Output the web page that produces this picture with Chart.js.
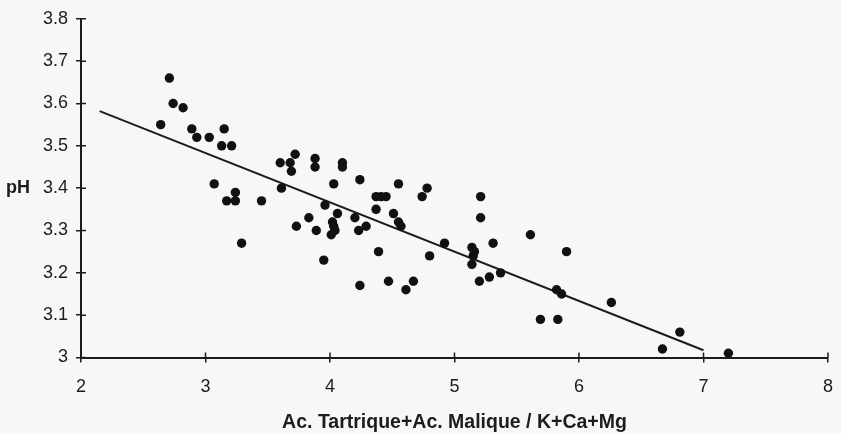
<!DOCTYPE html>
<html lang="fr">
<head>
<meta charset="utf-8">
<title>pH et rapport acides / cations</title>
<script src="https://cdn.jsdelivr.net/npm/chart.js@4.4.1/dist/chart.umd.min.js"></script>
<style>
    html, body { margin: 0; padding: 0; background: #f7f7f5; }
    #wrap { width: 841px; height: 434px; }
</style>
</head>
<body>
<div id="wrap"><canvas id="phChart" width="841" height="434"></canvas></div>
<script>
// Ac. tartrique + ac. malique / K + Ca + Mg, one value per sample
const ratioValues = [
    2.71, 2.74, 2.82, 2.64, 2.89, 2.93, 3.03, 3.15, 3.13, 3.21,
    3.07, 3.24, 3.17, 3.24, 3.45, 3.29, 3.60, 3.72, 3.68, 3.69,
    3.88, 3.88, 4.10, 4.10, 4.24, 4.03, 4.55, 3.61, 4.37, 4.41,
    4.45, 4.78, 4.74, 5.21, 3.96, 4.06, 4.37, 4.51, 3.83, 4.20,
    4.55, 4.57, 4.02, 4.03, 4.04, 4.01, 3.73, 3.89, 4.29, 4.23,
    5.21, 5.61, 4.92, 5.31, 5.14, 5.16, 5.15, 5.14, 4.39, 3.95,
    4.80, 5.37, 5.28, 5.20, 4.24, 4.47, 4.67, 4.61, 5.90, 5.82,
    5.86, 6.26, 5.69, 5.83, 6.81, 6.67, 7.20
];

// pH measured for the same samples
const phValues = [
    3.66, 3.60, 3.59, 3.55, 3.54, 3.52, 3.52, 3.54, 3.50, 3.50,
    3.41, 3.39, 3.37, 3.37, 3.37, 3.27, 3.46, 3.48, 3.46, 3.44,
    3.47, 3.45, 3.46, 3.45, 3.42, 3.41, 3.41, 3.40, 3.38, 3.38,
    3.38, 3.40, 3.38, 3.38, 3.36, 3.34, 3.35, 3.34, 3.33, 3.33,
    3.32, 3.31, 3.32, 3.31, 3.30, 3.29, 3.31, 3.30, 3.31, 3.30,
    3.33, 3.29, 3.27, 3.27, 3.26, 3.25, 3.24, 3.22, 3.25, 3.23,
    3.24, 3.20, 3.19, 3.18, 3.17, 3.18, 3.18, 3.16, 3.25, 3.16,
    3.15, 3.13, 3.09, 3.09, 3.06, 3.02, 3.01
];

// regression line end points
const fitX = [2.15, 7.0];
const fitY = [3.582, 3.017];

const xTicks = [2, 3, 4, 5, 6, 7, 8];
const yTicks = [3, 3.1, 3.2, 3.3, 3.4, 3.5, 3.6, 3.7, 3.8];
const yTickLabels = ['3', '3.1', '3.2', '3.3', '3.4', '3.5', '3.6', '3.7', '3.8'];

const ink = '#1c1c1c';
const tickFont = { family: '"Liberation Sans", Arial, sans-serif', size: 18 };

// Chart.js only draws ticks outside the axis; add the inner half so they cross it,
// and put the horizontal "pH" label level with the 3.4 tick.
const crossTicks = {
    id: 'crossTicks',
    afterDraw(chart) {
        const { ctx, chartArea, scales: { x, y } } = chart;
        ctx.save();
        ctx.strokeStyle = ink;
        ctx.lineWidth = 1.5;
        ctx.beginPath();
        x.ticks.forEach((t, i) => {
            const px = x.getPixelForTick(i);
            ctx.moveTo(px, chartArea.bottom);
            ctx.lineTo(px, chartArea.bottom - 5);
        });
        y.ticks.forEach((t, i) => {
            const py = y.getPixelForTick(i);
            ctx.moveTo(chartArea.left, py);
            ctx.lineTo(chartArea.left + 5, py);
        });
        ctx.stroke();

        ctx.fillStyle = ink;
        ctx.font = 'bold 18px "Liberation Sans", Arial, sans-serif';
        ctx.textAlign = 'left';
        ctx.textBaseline = 'middle';
        ctx.fillText('pH', 6, y.getPixelForValue(3.4));
        ctx.restore();
    }
};

const samples = ratioValues.map((v, i) => ({ x: v, y: phValues[i] }));
const fitLine = fitX.map((v, i) => ({ x: v, y: fitY[i] }));

new Chart(document.getElementById('phChart'), {
    type: 'scatter',
    data: {
        datasets: [
            {
                label: 'Échantillons',
                data: samples,
                pointRadius: 4.7,
                pointBackgroundColor: '#111',
                pointBorderColor: '#111',
                pointBorderWidth: 0,
                order: 0
            },
            {
                label: 'Régression',
                type: 'line',
                data: fitLine,
                borderColor: ink,
                borderWidth: 2,
                pointRadius: 0,
                fill: false,
                order: 1
            }
        ]
    },
    options: {
        responsive: false,
        animation: false,
        layout: { padding: { top: 14, right: 13, bottom: 0, left: 0 } },
        plugins: {
            legend: { display: false },
            tooltip: { enabled: false }
        },
        scales: {
            x: {
                type: 'linear',
                min: 2,
                max: 8,
                afterBuildTicks: scale => { scale.ticks = xTicks.map(v => ({ value: v })); },
                afterFit: scale => {
                    scale.height = 76.5;
                    // the layout padding already leaves room for the end labels
                    scale.paddingLeft = 0;
                    scale.paddingRight = 0;
                },
                border: { color: ink, width: 2 },
                grid: { drawOnChartArea: false, tickLength: 5, color: ink, lineWidth: 1.5 },
                ticks: { color: ink, font: tickFont, padding: 14, maxRotation: 0 },
                title: {
                    display: true,
                    text: 'Ac. Tartrique+Ac. Malique / K+Ca+Mg',
                    color: ink,
                    font: { family: '"Liberation Sans", Arial, sans-serif', size: 19.5, weight: 'bold' },
                    padding: { top: 4, bottom: 0 }
                }
            },
            y: {
                type: 'linear',
                min: 3,
                max: 3.8,
                afterBuildTicks: scale => { scale.ticks = yTicks.map(v => ({ value: v })); },
                afterFit: scale => { scale.width = 81; },
                border: { color: ink, width: 2 },
                grid: { drawOnChartArea: false, tickLength: 5, color: ink, lineWidth: 1.5 },
                ticks: {
                    color: ink,
                    font: tickFont,
                    padding: 8,
                    callback: (value, index) => yTickLabels[index]
                }
            }
        }
    },
    plugins: [crossTicks]
});
</script>
</body>
</html>
